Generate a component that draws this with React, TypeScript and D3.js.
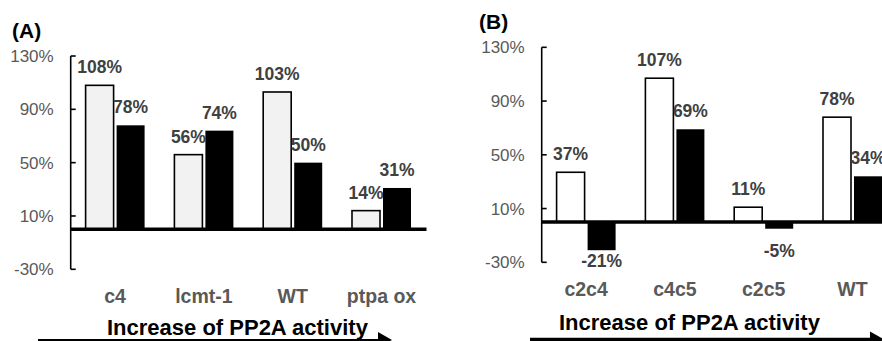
import React from "react";
import * as d3 from "d3";

// panel A
const catsA = ["c4", "lcmt-1", "WT", "ptpa ox"];
const lightA = [108, 56, 103, 14];
const darkA = [78, 74, 50, 31];

// panel B
const catsB = ["c2c4", "c4c5", "c2c5", "WT"];
const lightB = [37, 107, 11, 78];
const darkB = [-21, 69, -5, 34];

const yTicks = [-30, 10, 50, 90, 130];
const axisTitle = "Increase of PP2A activity";

const FONT = "'Liberation Sans', Arial, sans-serif";
const W = 882;
const H = 341;

const fmt = (v) => `${v}%`;

const Panel = ({ tag, tagPos, cats, light, dark, lightFill, x0, top, bottom, zeroEnd, catY, titleX, titleY, arrow }) => {
  const x = d3.scaleBand().domain(cats).range([x0, x0 + cats.length * 88.8]).padding(0);
  const y = d3.scaleLinear().domain([yTicks[0], yTicks[yTicks.length - 1]]).range([bottom, top]);
  const bw = 28;
  const gap = 3;
  const y0 = y(0);

  const bars = [];
  cats.forEach((c, i) => {
    const cx = x(c) + x.bandwidth() / 2;
    [
      { v: light[i], bx: cx - gap / 2 - bw, fill: lightFill, stroke: "#000" },
      { v: dark[i], bx: cx + gap / 2, fill: "#000", stroke: "none" },
    ].forEach((b, j) => {
      const yt = Math.min(y(b.v), y0);
      const h = Math.abs(y(b.v) - y0);
      const ly = b.v >= 0 ? y(b.v) - 12 : Math.max(y(b.v) + 17, y0 + 35);
      bars.push(
        <g key={`${c}-${j}`}>
          <rect x={b.bx} y={yt} width={bw} height={h} fill={b.fill} stroke={b.stroke} strokeWidth={1.6} />
          <text x={b.bx + bw / 2} y={ly} textAnchor="middle" fontSize={17.5} fontWeight="bold" fill="#404040">
            {fmt(b.v)}
          </text>
        </g>
      );
    });
  });

  return (
    <g fontFamily={FONT}>
      <text x={tagPos[0]} y={tagPos[1]} fontSize={21} fontWeight="bold" fill="#000">{tag}</text>
      {/* y axis */}
      <line x1={x0} x2={x0} y1={top} y2={bottom} stroke="#000" strokeWidth={1.6} />
      {yTicks.map((t) => (
        <g key={t}>
          <line x1={x0} x2={x0 + 5} y1={y(t)} y2={y(t)} stroke="#000" strokeWidth={1.6} />
          <text x={x0 - 17} y={y(t) + 6} textAnchor="end" fontSize={17} fill="#595959">{fmt(t)}</text>
        </g>
      ))}
      {bars}
      {/* zero line */}
      <line x1={x0} x2={zeroEnd} y1={y0} y2={y0} stroke="#000" strokeWidth={3.4} />
      {cats.map((c) => (
        <text key={c} x={x(c) + x.bandwidth() / 2} y={catY} textAnchor="middle" fontSize={19.5} fontWeight="bold" fill="#595959">
          {c}
        </text>
      ))}
      <text x={titleX} y={titleY} fontSize={22} fontWeight="bold" fill="#000">{axisTitle}</text>
      <line x1={arrow.x1} x2={arrow.x2 - 4} y1={arrow.y} y2={arrow.y} stroke="#000" strokeWidth={arrow.w} />
      <polygon
        points={`${arrow.x2 - 14},${arrow.y - 8} ${arrow.x2},${arrow.y} ${arrow.x2 - 14},${arrow.y + 8}`}
        fill="#000"
      />
    </g>
  );
};

export default function App() {
  return (
    <svg width={W} height={H} style={{ position: "absolute", left: 0, top: 0, background: "#fff" }}>
      <rect width={W} height={H} fill="#fff" />
      <Panel
        tag="(A)"
        tagPos={[12, 38]}
        cats={catsA}
        light={lightA}
        dark={darkA}
        lightFill="#f2f2f2"
        x0={70.7}
        top={56}
        bottom={269.3}
        zeroEnd={426.5}
        catY={303}
        titleX={107}
        titleY={335}
        arrow={{ x1: 38, x2: 392, y: 340, w: 2 }}
      />
      <Panel
        tag="(B)"
        tagPos={[479, 29]}
        cats={catsB}
        light={lightB}
        dark={darkB}
        lightFill="#fff"
        x0={541.7}
        top={47.3}
        bottom={262.3}
        zeroEnd={W}
        catY={296}
        titleX={559}
        titleY={330}
        arrow={{ x1: 530, x2: 884, y: 339.5, w: 3.5 }}
      />
    </svg>
  );
}
